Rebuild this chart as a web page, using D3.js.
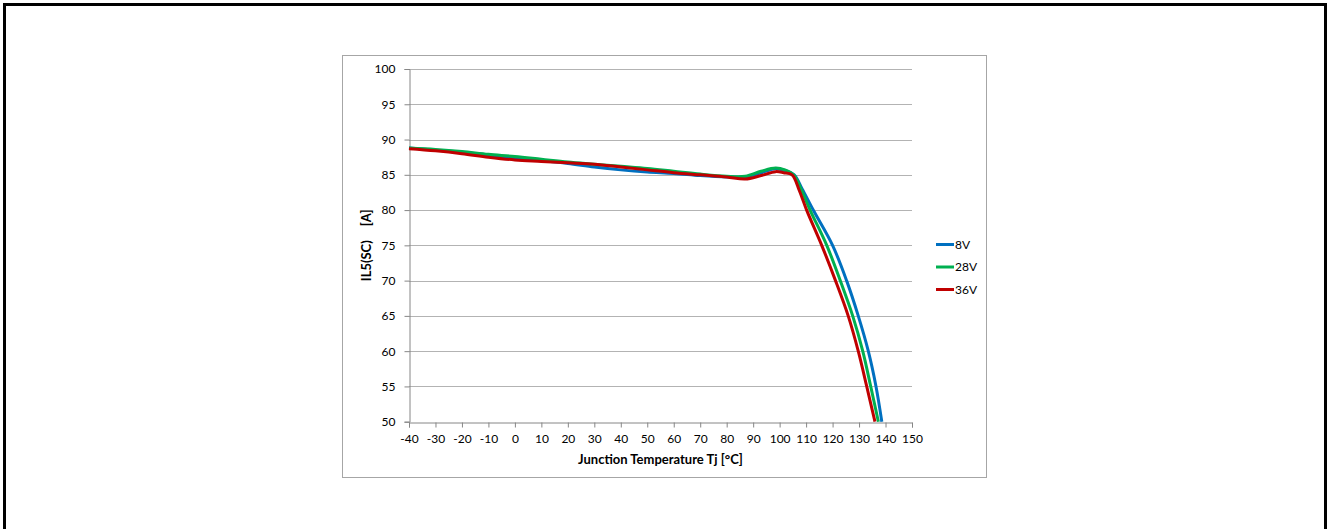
<!DOCTYPE html>
<html>
<head>
<meta charset="utf-8">
<script src="https://cdn.jsdelivr.net/npm/d3@7"></script>
<style>
  body { margin: 0; background: #fff; }
  svg { display: block; font-family: Lato, "Open Sans", sans-serif; }
</style>
</head>
<body>
<svg id="chart" width="1328" height="529"></svg>
<script>
// temperatures (x) and currents (y) per supply voltage
var t8V  = [-40, -30, -20, -10, 0, 10, 20, 30, 40, 50, 60, 70, 80, 87, 93, 98.5, 102, 105.5, 108.5, 112.7, 120.0, 125.3, 129.7, 133.5, 136.4, 138.6];
var i8V  = [88.8, 88.5, 88.2, 87.8, 87.4, 87.0, 86.6, 86.1, 85.7, 85.4, 85.2, 84.9, 84.7, 84.7, 85.3, 85.85, 85.6, 85.0, 83.0, 80, 75, 70, 65, 60, 55, 50];
var t28V = [-40, -30, -20, -10, 0, 10, 20, 30, 40, 50, 60, 70, 80, 87, 93, 98.5, 102, 105.3, 108.3, 111.5, 117.8, 122.9, 127.6, 131.4, 134.4, 137.3];
var i28V = [88.8, 88.6, 88.3, 87.9, 87.6, 87.2, 86.8, 86.5, 86.2, 85.9, 85.5, 85.1, 84.8, 84.8, 85.5, 85.95, 85.7, 85.0, 82.8, 80, 75, 70, 65, 60, 55, 50];
var t36V = [-40, -30, -20, -10, 0, 10, 20, 30, 40, 50, 60, 70, 80, 87, 93, 98.5, 101.5, 104.7, 107.5, 110.2, 115.9, 121.1, 125.9, 129.7, 132.9, 136.0];
var i36V = [88.7, 88.4, 88.0, 87.5, 87.1, 86.9, 86.7, 86.5, 86.1, 85.7, 85.3, 85.0, 84.7, 84.4, 84.9, 85.45, 85.3, 85.0, 82.7, 80, 75, 70, 65, 60, 55, 50];

var seriesNames = ["8V", "28V", "36V"];
var seriesColors = ["#0070c0", "#00b050", "#c00000"];
var xTicks = d3.range(-40, 151, 10);
var yTicks = d3.range(50, 101, 5);

var series = [
  {name: seriesNames[0], color: seriesColors[0], pts: d3.zip(t8V, i8V)},
  {name: seriesNames[1], color: seriesColors[1], pts: d3.zip(t28V, i28V)},
  {name: seriesNames[2], color: seriesColors[2], pts: d3.zip(t36V, i36V)}
];

var svg = d3.select("#chart");

// outer frame
svg.append("rect")
  .attr("x", 4.5).attr("y", 4.5)
  .attr("width", 1321).attr("height", 600)
  .attr("fill", "none").attr("stroke", "#000").attr("stroke-width", 3);

// chart box
svg.append("rect")
  .attr("x", 342.5).attr("y", 55.5)
  .attr("width", 644).attr("height", 422)
  .attr("fill", "#fff").attr("stroke", "#a6a6a6").attr("stroke-width", 1);

var x = d3.scaleLinear().domain([-40, 150]).range([409, 912]);
var y = d3.scaleLinear().domain([50, 100]).range([421.7, 69]);

// gridlines
svg.append("g").selectAll("line")
  .data(yTicks.filter(function (d) { return d > 50; }))
  .enter().append("line")
  .attr("x1", x(-40)).attr("x2", x(150))
  .attr("y1", function (d) { return Math.round(y(d)) + 0.5; })
  .attr("y2", function (d) { return Math.round(y(d)) + 0.5; })
  .attr("stroke", "#b3b3b3").attr("stroke-width", 1);

// axes (plain hyphen for negatives, like the original)
var xAxis = svg.append("g")
  .attr("transform", "translate(0," + (Math.round(y(50)) + 0.5) + ")")
  .call(d3.axisBottom(x).tickValues(xTicks).tickSize(5).tickPadding(7).tickFormat(String));
var yAxis = svg.append("g")
  .attr("transform", "translate(" + (Math.round(x(-40)) + 0.5) + ",0)")
  .call(d3.axisLeft(y).tickValues(yTicks).tickSize(5).tickPadding(9).tickFormat(String));

[xAxis, yAxis].forEach(function (a) {
  a.select(".domain").attr("stroke", "#868686");
  a.selectAll(".tick line").attr("stroke", "#868686");
  a.selectAll(".tick text").attr("fill", "#000").style("font-size", "12px").style("font-family", "Lato, sans-serif");
});

// curves - smoothed like the spreadsheet lines
var line = d3.line()
  .x(function (d) { return x(d[0]); })
  .y(function (d) { return y(d[1]); })
  .curve(d3.curveCatmullRom.alpha(0.5));

svg.append("g").selectAll("path")
  .data(series).enter().append("path")
  .attr("d", function (d) { return line(d.pts); })
  .attr("fill", "none")
  .attr("stroke", function (d) { return d.color; })
  .attr("stroke-width", 3)
  .attr("stroke-linejoin", "round");

// axis titles
svg.append("text")
  .attr("x", (x(-40) + x(150)) / 2).attr("y", 464)
  .attr("text-anchor", "middle")
  .style("font-size", "13px").style("font-weight", "bold")
  .text("Junction Temperature Tj [°C]");

var yTitle = svg.append("text")
  .attr("transform", "translate(371," + ((y(50) + y(100)) / 2) + ") rotate(-90)")
  .attr("text-anchor", "middle")
  .style("font-size", "13px").style("font-weight", "bold");
yTitle.append("tspan").text("IL5(SC)");
yTitle.append("tspan").attr("dx", 14).text("[A]");

// legend
var legend = svg.append("g").selectAll("g")
  .data(series).enter().append("g")
  .attr("transform", function (d, i) { return "translate(936," + (244.5 + i * 22.5) + ")"; });
legend.append("line")
  .attr("x1", 0).attr("x2", 18)
  .attr("stroke", function (d) { return d.color; })
  .attr("stroke-width", 3);
legend.append("text")
  .attr("x", 19).attr("dy", "0.35em")
  .style("font-size", "12px")
  .text(function (d) { return d.name; });
</script>
</body>
</html>
